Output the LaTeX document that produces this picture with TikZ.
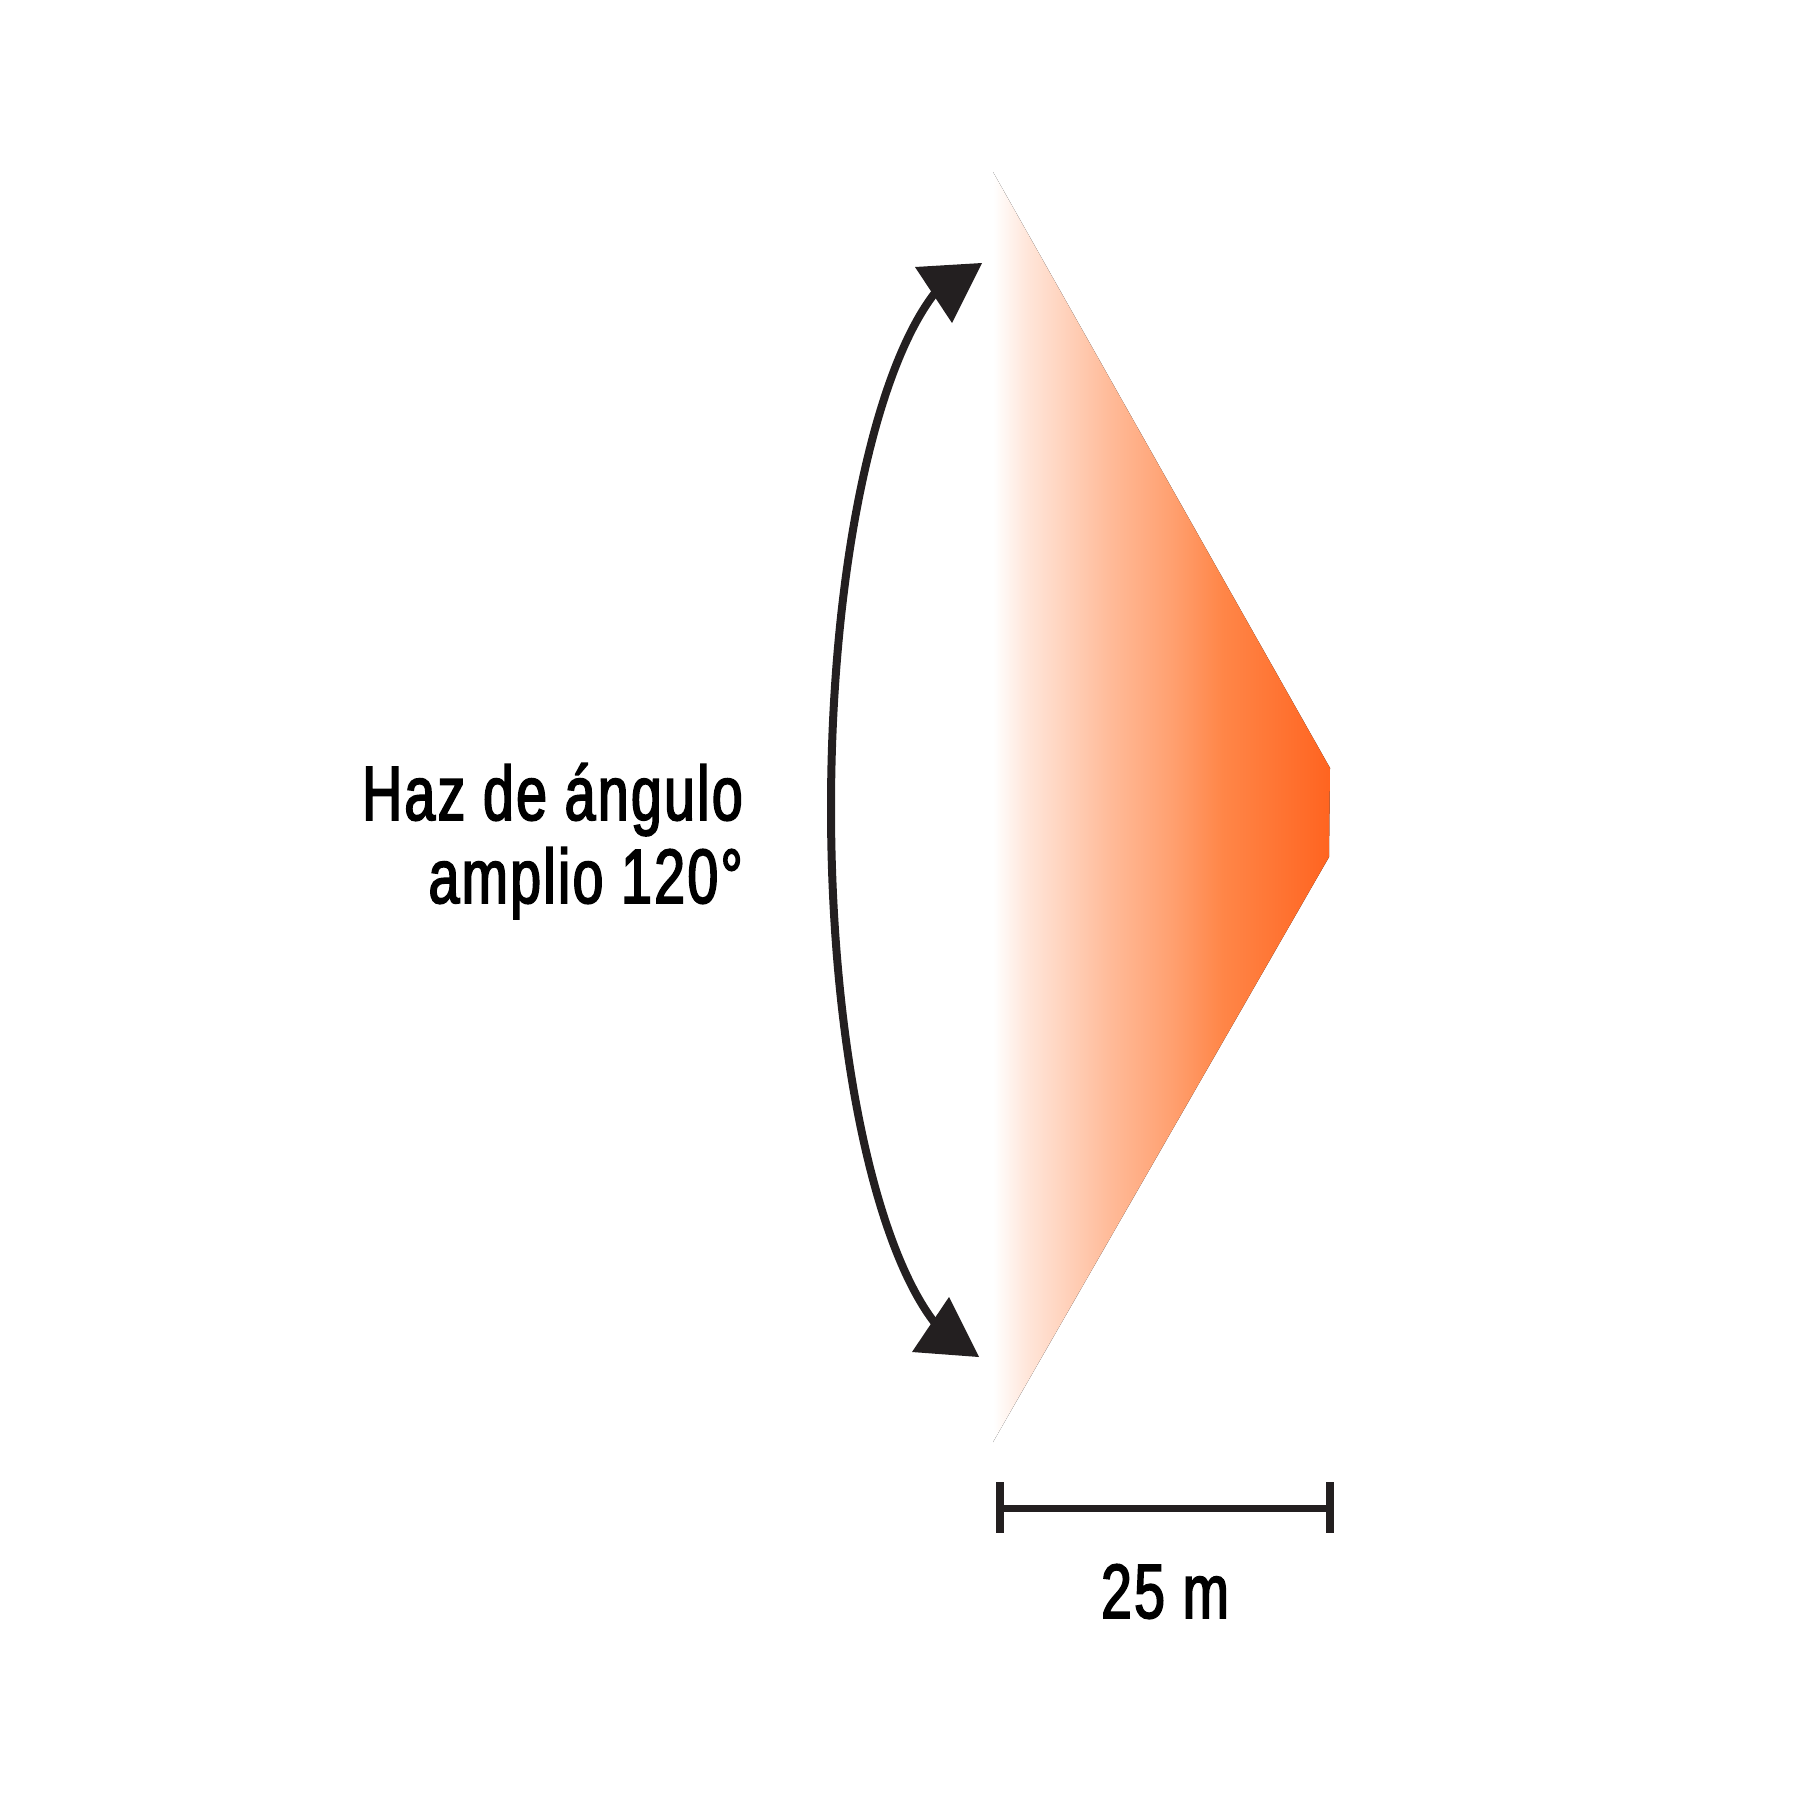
\documentclass[tikz,border=0pt]{standalone}
\usepackage{fontspec}
\newfontfamily\lblfont{Liberation Sans}[FakeStretch=0.72,FakeBold=2.2,LetterSpace=3]
\definecolor{beam}{HTML}{FF6420}
\definecolor{bsa}{HTML}{FFE6DA}
\definecolor{bsb}{HTML}{FFBA98}
\definecolor{bsc}{HTML}{FFA070}
\definecolor{bsd}{HTML}{FF8648}
\definecolor{ink}{HTML}{231F20}
\pgfdeclarehorizontalshading{beamshade}{100bp}{color(0bp)=(white); color(25bp)=(white); color(30bp)=(bsa); color(42.5bp)=(bsb); color(51.5bp)=(bsc); color(59bp)=(bsd); color(75bp)=(beam); color(100bp)=(beam)}
\tikzset{
  lbl/.style={font=\lblfont\fontsize{77}{83}\selectfont, inner sep=0pt, text=black},
  stroke/.style={draw=ink, line width=8},
}
\begin{document}
\begin{tikzpicture}[x=1pt,y=-1pt]
\useasboundingbox (0,0) rectangle (1800,1800);
% beam
\fill[shading=beamshade, shading angle=0]
  (993,172) -- (1330,768) -- (1329,857) -- (993,1442) -- cycle;
% angle arc
\draw[stroke] plot[domain=252:108, samples=120, smooth]
  ({991+160*cos(\x)},{808+550*sin(\x)});
\fill[ink] (915,267) -- (982,263) -- (952,323) -- cycle;
\fill[ink] (912,1352) -- (979,1357) -- (949,1297) -- cycle;
% labels
\node[lbl, anchor=base east] (l1) at (743,820) {Haz de ángulo};
\node[lbl, anchor=base east] (l2) at (743,903) {amplio 120°};
% scale bar
\coordinate (sbL) at (1000,1508);
\coordinate (sbR) at (1330,1508);
\draw[ink, line width=7] (sbL) -- (sbR);
\draw[ink, line width=8] (sbL) ++(0,-26) -- ++(0,51);
\draw[ink, line width=8] (sbR) ++(0,-26) -- ++(0,51);
\node[lbl, anchor=base] (dist) at (1165,1618) {25 m};
\end{tikzpicture}
\end{document}
